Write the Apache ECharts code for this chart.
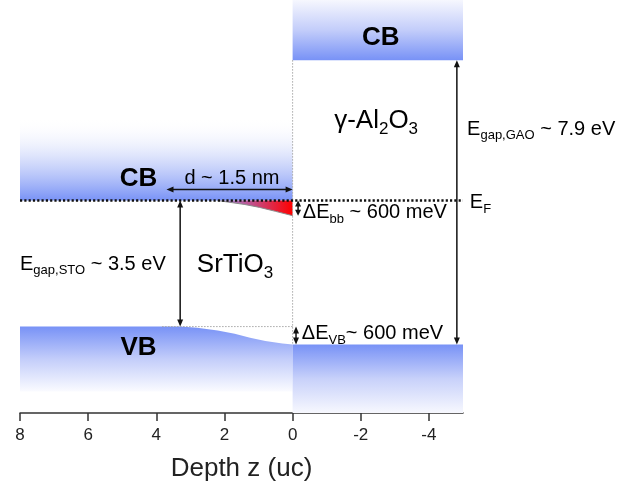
<!DOCTYPE html>
<html><head><meta charset="utf-8">
<script src="https://cdn.jsdelivr.net/npm/echarts@6/dist/echarts.min.js"></script>
<style>html,body{margin:0;padding:0;background:#fff}#c{width:634px;height:487px}</style>
</head><body><div id="c"></div>
<script>
// ---------------- data ----------------
const xTickValues = [8, 6, 4, 2, 0, -2, -4];
const depthMin = -5, depthMax = 8;
const stoCB = 0.0;      // eV, relative to E_F
const stoVB = -3.5;
const gaoCB = 3.9;
const gaoVB = -4.0;
const stoCBFadeTop = 2.3;
const stoVBFadeBottom = -5.3;
// valence band bending of SrTiO3 towards the interface
const vbDepth  = [8, 3.3, 2.8, 2.2, 1.7, 1.25, 0.8, 0.3, 0];
const vbEnergy = [-3.5, -3.5, -3.53, -3.61, -3.7, -3.81, -3.9, -3.97, -4.0];
// conduction band bending (red accumulation region)
const cbDepth  = [2.2, 1.76, 1.4, 0.97, 0.5, 0];
const cbEnergy = [0, -0.06, -0.11, -0.19, -0.3, -0.42];
// dimension arrows: [z1, E1, z2, E2]
const arrowD      = [3.7, 0.31, 0, 0.31];
const arrowGapSTO = [3.3, 0, 3.3, -3.5];
const arrowGapGAO = [-4.82, 3.9, -4.82, -4.0];
const arrowBB     = [-0.16, 0, -0.16, -0.42];
const arrowVB     = [-0.1, -3.5, -0.1, -4.0];
const vbRefStart = 3.83;

const yMin = -5.9, yMax = 5.57;
const FF = '"Liberation Sans", Arial, sans-serif';
const TXT = '#111';

// -------------- helpers --------------
function grad(stops) {
  return new echarts.graphic.LinearGradient(0, 0, 0, 1,
    stops.map((c, i) => ({offset: i / (stops.length - 1), color: c})));
}
const BLUE = '#7892f6';

function bandShapes() {
  const shapes = [];
  // SrTiO3 CB
  shapes.push({pts: [[depthMax, stoCBFadeTop], [0, stoCBFadeTop], [0, stoCB], [depthMax, stoCB]],
               fill: grad(['rgba(255,255,255,0)', 'rgba(200,210,250,0.7)', BLUE])});
  // Al2O3 CB
  shapes.push({pts: [[0, yMax], [depthMin, yMax], [depthMin, gaoCB], [0, gaoCB]],
               fill: grad(['#f6f7fe', '#c3cdfa', BLUE])});
  // SrTiO3 VB (bent)
  const vbPts = vbDepth.map((z, i) => [z, vbEnergy[i]]);
  vbPts.push([0, stoVBFadeBottom], [depthMax, stoVBFadeBottom]);
  shapes.push({pts: vbPts, fill: grad([BLUE, '#c3cdfa', 'rgba(250,251,255,1)'])});
  // Al2O3 VB
  shapes.push({pts: [[0, gaoVB], [depthMin, gaoVB], [depthMin, yMin], [0, yMin]],
               fill: grad([BLUE, '#c8d1fa', '#f7f8fe'])});
  // red accumulation region
  const redPts = [[cbDepth[0], 0], [0, 0]];
  for (let i = cbDepth.length - 1; i >= 0; i--) redPts.push([cbDepth[i], cbEnergy[i]]);
  shapes.push({pts: redPts, fill: new echarts.graphic.LinearGradient(0, 0, 1, 0,
     [{offset: 0, color: '#9a90e0'}, {offset: 0.45, color: '#c0508c'}, {offset: 1, color: '#ff0000'}])});
  return shapes;
}
const SHAPES = bandShapes();

function arrowEls(api, a) {
  const p1 = api.coord([a[0], a[1]]), p2 = api.coord([a[2], a[3]]);
  const dx = p2[0] - p1[0], dy = p2[1] - p1[1];
  const L = Math.hypot(dx, dy), ux = dx / L, uy = dy / L;
  const hl = Math.min(7, L / 2.5), hw = 3;
  const tri = (t, u) => ({type: 'polygon', shape: {points: [
      t,
      [t[0] - u[0] * hl - u[1] * hw, t[1] - u[1] * hl + u[0] * hw],
      [t[0] - u[0] * hl + u[1] * hw, t[1] - u[1] * hl - u[0] * hw]]},
      style: {fill: '#111'}});
  return [
    {type: 'line', shape: {x1: p1[0] + ux * hl * 0.7, y1: p1[1] + uy * hl * 0.7,
                           x2: p2[0] - ux * hl * 0.7, y2: p2[1] - uy * hl * 0.7},
     style: {stroke: '#111', lineWidth: 1.5}},
    tri(p2, [ux, uy]), tri(p1, [-ux, -uy])
  ];
}

const rich = {
  m:  {fontSize: 20, lineHeight: 20, verticalAlign: 'top', fontFamily: FF, color: TXT},
  s:  {fontSize: 13, lineHeight: 13, padding: [10, 0, 0, 0], verticalAlign: 'top', fontFamily: FF, color: TXT},
  L:  {fontSize: 26, lineHeight: 26, verticalAlign: 'top', fontFamily: FF, color: TXT},
  Ls: {fontSize: 17, lineHeight: 17, padding: [13, 0, 0, 0], verticalAlign: 'top', fontFamily: FF, color: TXT},
  B:  {fontSize: 26, fontWeight: 'bold', fontFamily: FF, color: TXT}
};
// label contents
const labelTexts = [
  '{B|CB}', '{B|CB}', '{B|VB}',
  '{L|γ-Al}{Ls|2}{L|O}{Ls|3}', '{L|SrTiO}{Ls|3}',
  '{m|d ~ 1.5 nm}',
  '{m|E}{s|gap,GAO}{m| ~ 7.9 eV}', '{m|E}{s|F}',
  '{m|ΔE}{s|bb}{m| ~ 600 meV}', '{m|ΔE}{s|VB}{m|~ 600 meV}',
  '{m|E}{s|gap,STO}{m| ~ 3.5 eV}'
];
// anchors (data coordinates) and alignment
const labelAnchors = [
  [4.52, 0.61, 'center'], [-2.59, 4.53, 'center'], [4.52, -4.08, 'center'],
  [-2.45, 2.22, 'center'], [1.69, -1.78, 'center'],
  [1.78, 0.6, 'center'],
  [-5.12, 1.98, 'left'], [-5.2, -0.06, 'left'],
  [-0.3, -0.33, 'left'], [-0.27, -3.69, 'left'],
  [8.0, -1.77, 'left']
];

const chart = echarts.init(document.getElementById('c'), null, {renderer: 'canvas'});
chart.setOption({
  animation: false,
  backgroundColor: '#fff',
  grid: {left: 20, right: 171, top: 0, bottom: 74},
  xAxis: {
    type: 'value', inverse: true, min: depthMin, max: depthMax,
    axisLine: {onZero: false, lineStyle: {color: '#333', width: 1.5}},
    axisTick: {customValues: xTickValues, length: 8, lineStyle: {color: '#333', width: 1.5}},
    axisLabel: {customValues: xTickValues, margin: 14, fontSize: 17, color: '#222', fontFamily: FF},
    splitLine: {show: false},
    name: 'Depth z (uc)', nameLocation: 'middle', nameGap: 43,
    nameTextStyle: {fontSize: 26, color: '#222', fontFamily: FF}
  },
  yAxis: {type: 'value', min: yMin, max: yMax, show: false, splitLine: {show: false}},
  series: [
    {
      type: 'custom', silent: true, clip: false,
      data: SHAPES.map((s, i) => [i, 0]),
      renderItem: (params, api) => {
        const s = SHAPES[params.dataIndex];
        const els = [{type: 'polygon', shape: {points: s.pts.map(p => api.coord(p))}, style: {fill: s.fill}}];
        if (params.dataIndex === 4) {
          els.push({type: 'polyline', shape: {points: cbDepth.map((z, i) => api.coord([z, cbEnergy[i]]))},
                    style: {stroke: '#8a8a8a', lineWidth: 1, fill: null}});
        }
        return {type: 'group', children: els};
      }
    },
    {type: 'line', silent: true, symbol: 'none', data: [[0, gaoCB], [0, gaoVB]],
     lineStyle: {color: '#a8a8a8', width: 1, type: [1.5, 1.5]}},
    {type: 'line', silent: true, symbol: 'none', data: [[vbRefStart, stoVB], [0, stoVB]],
     lineStyle: {color: '#a8a8a8', width: 1, type: [1.5, 1.5]}},
    {type: 'line', silent: true, symbol: 'none', data: [[depthMax, stoCB], [depthMin, stoCB]],
     lineStyle: {color: '#111', width: 2.5, type: [2.2, 2.1]}},
    {
      type: 'custom', silent: true, clip: false,
      data: [[0, 0], [1, 0], [2, 0], [3, 0], [4, 0]],
      renderItem: (params, api) => {
        const a = [arrowD, arrowGapSTO, arrowGapGAO, arrowBB, arrowVB][params.dataIndex];
        return {type: 'group', children: arrowEls(api, a)};
      }
    },
    {
      type: 'custom', silent: true, clip: false,
      data: labelTexts.map((t, i) => [i, 0]),
      renderItem: (params, api) => {
        const i = params.dataIndex, a = labelAnchors[i];
        const p = api.coord([a[0], a[1]]);
        return {type: 'text', x: p[0], y: p[1],
          style: {text: labelTexts[i], rich: rich, align: a[2], verticalAlign: 'middle'}};
      }
    }
  ]
});
</script>
</body></html>
